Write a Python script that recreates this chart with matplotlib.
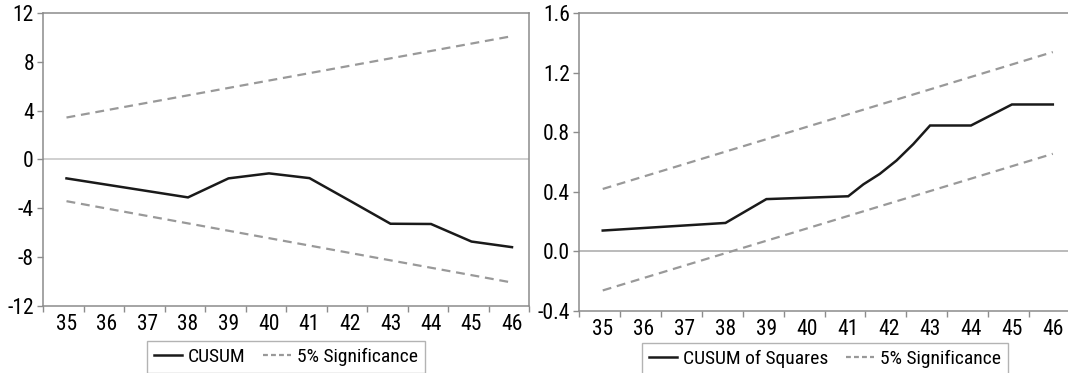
import numpy as np
import matplotlib
matplotlib.use('Agg')
from matplotlib import pyplot as plt
from matplotlib.lines import Line2D

plt.rcParams['font.family'] = ['Roboto Condensed', 'DejaVu Sans Condensed', 'Roboto', 'DejaVu Sans']
plt.rcParams['axes.unicode_minus'] = False

# CUSUM panel
cusum_x = [35, 36, 37, 38, 39, 40, 41, 42, 43, 44, 45, 46]
cusum_y = [-1.56, -2.08, -2.6, -3.12, -1.56, -1.15, -1.54, -3.4, -5.28, -5.3, -6.74, -7.2]
cusum_band_x = [35, 46]
cusum_upper = [3.43, 10.1]
cusum_lower = [-3.43, -10.1]

# CUSUM of squares panel
sq_x = [35, 38, 39, 41, 41.37, 41.77, 42.18, 42.59, 43, 44, 45, 46]
sq_y = [0.14, 0.191, 0.351, 0.37, 0.45, 0.52, 0.61, 0.72, 0.845, 0.845, 0.986, 0.986]
sq_band_x = [35, 46]
sq_upper = [0.419, 1.338]
sq_lower = [-0.262, 0.655]

years = list(range(35, 47))

W, H = 1068, 373
fig = plt.figure(figsize=(W / 100, H / 100), dpi=100)

ax1 = fig.add_axes([43 / W, (H - 305.7) / H, 486 / W, 292.7 / H])
ax2 = fig.add_axes([579 / W, (H - 311) / H, 491 / W, 298 / H])

line_kw = dict(color='#1a1a1a', linewidth=1.8, solid_joinstyle='miter')
dash_kw = dict(color='#999999', linewidth=1.6, dashes=(4, 2.6))
spine_col = '#8c8c8c'


def style(ax, yticks, fmt):
    ax.set_xlim(34.42, 46.42)
    ax.set_xticks(years)
    ax.set_xticklabels([str(y) for y in years])
    ax.set_xticks(np.arange(34.42, 46.43, 1.0), minor=True)
    ax.tick_params(axis='x', which='major', length=0, pad=6, labelsize=15.5)
    ax.tick_params(axis='x', which='minor', length=4, width=1, color=spine_col)
    ax.set_yticks(yticks)
    ax.set_yticklabels([fmt.format(v) for v in yticks])
    ax.set_ylim(yticks[0], yticks[-1])
    ax.tick_params(axis='y', length=4.5, width=1, color=spine_col, pad=2, labelsize=15.5)
    for s in ax.spines.values():
        s.set_color(spine_col)
        s.set_linewidth(1.1)


ax1.axhline(0, color='#c4c4c4', linewidth=1.1, zorder=1)
ax1.plot(cusum_band_x, cusum_upper, **dash_kw)
ax1.plot(cusum_band_x, cusum_lower, **dash_kw)
ax1.plot(cusum_x, cusum_y, **line_kw)
style(ax1, [-12, -8, -4, 0, 4, 8, 12], '{:d}')

ax2.axhline(0, color='#a8a8a8', linewidth=1.1, zorder=1)
ax2.plot(sq_band_x, sq_upper, **dash_kw)
ax2.plot(sq_band_x, sq_lower, **dash_kw)
ax2.plot(sq_x, sq_y, **line_kw)
style(ax2, [-0.4, 0.0, 0.4, 0.8, 1.2, 1.6], '{:.1f}')

leg_kw = dict(loc='center', ncol=2, fontsize=14, frameon=True, fancybox=False,
              edgecolor='#a0a0a0', handlelength=1.45, handletextpad=0.3,
              columnspacing=0.9, borderpad=0.35, borderaxespad=0)


def handles(label):
    return [Line2D([], [], **line_kw, label=label),
            Line2D([], [], color='#999999', linewidth=1.6, dashes=(2.2, 1.4),
                   label='5% Significance')]


l1 = fig.legend(handles=handles('CUSUM'), bbox_to_anchor=(286 / W, 1 - 357 / H), **leg_kw)
l1.get_frame().set_linewidth(1.0)
l2 = fig.legend(handles=handles('CUSUM of Squares'), bbox_to_anchor=(825 / W, 1 - 359 / H), **leg_kw)
l2.get_frame().set_linewidth(1.0)

fig.savefig('out.png', dpi=100)
